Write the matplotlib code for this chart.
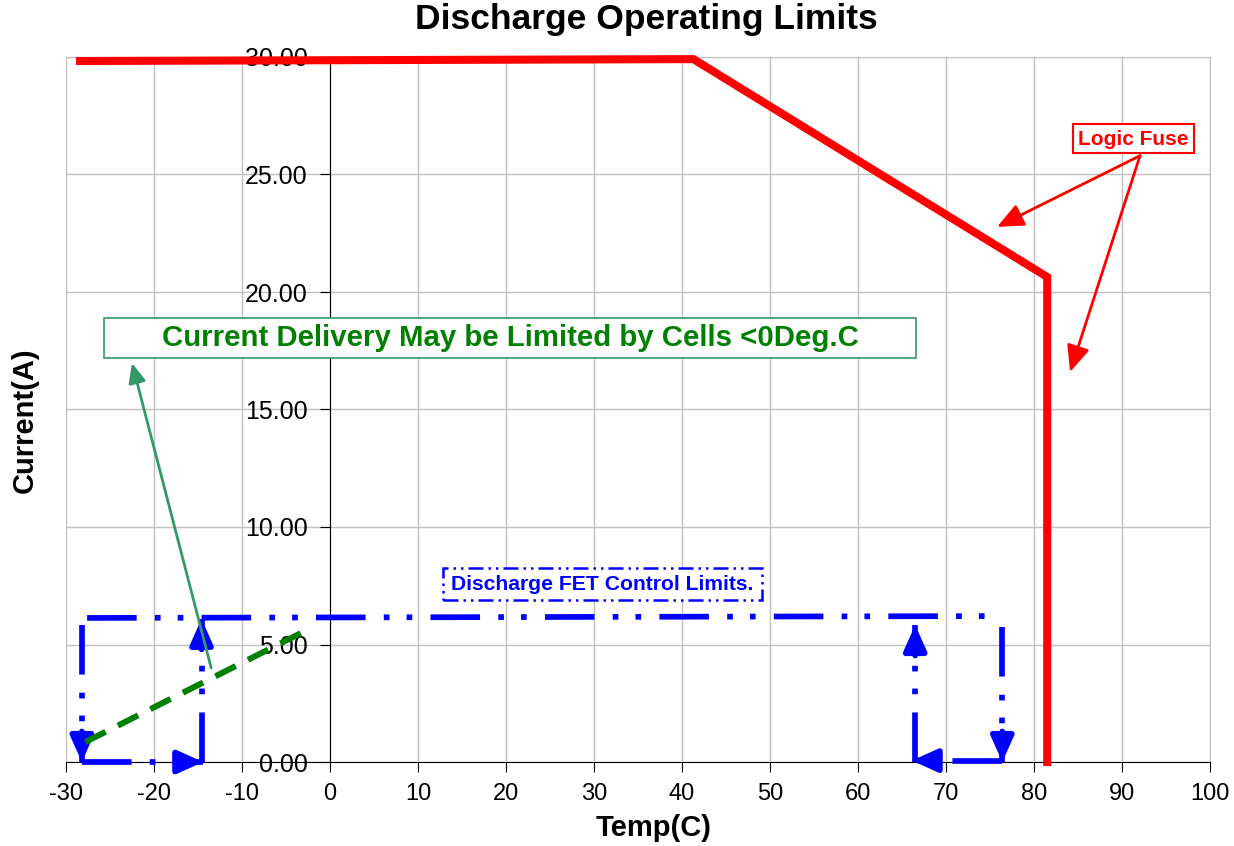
import matplotlib
matplotlib.use('Agg')
import matplotlib.pyplot as plt
from matplotlib.patches import Rectangle
from matplotlib.ticker import FormatStrFormatter

plt.rcParams['font.family'] = ['Liberation Sans', 'DejaVu Sans']
plt.rcParams['axes.unicode_minus'] = False

# logic fuse limit (red)
fuse_temp = [-28.4, 41.3, 81.5, 81.5]
fuse_curr = [29.83, 29.91, 20.64, 0.0]

# discharge FET control limits (blue), drawn as segments
fet_top_temp = [-27.6, 76.0]
fet_top_curr = [6.13, 6.21]
# (start temp, start curr, end temp, end curr) -- arrow at end
fet_arrows = [
    (-28.2, 5.83, -28.2, 0.0),
    (-28.2, 0.0, -14.4, 0.0),
    (-14.6, 0.0, -14.6, 6.09),
    (76.4, 5.74, 76.4, 0.0),
    (76.4, 0.06, 66.1, 0.06),
    (66.5, 0.0, 66.5, 5.83),
]

# cell limit (green dashed)
cell_temp = [-27.8, -2.6]
cell_curr = [0.85, 5.62]

fig = plt.figure(figsize=(12.34, 8.46), dpi=100)
ax = fig.add_axes([66/1234, 1-762/846, (1210-66)/1234, (762-57)/846])

ax.set_xlim(-30, 100)
ax.set_ylim(0, 30)
ax.set_xticks(range(-30, 101, 10))
ax.set_yticks(range(0, 31, 5))
ax.yaxis.set_major_formatter(FormatStrFormatter('%.2f'))
ax.grid(True, color='#c0c0c0', lw=1)
ax.set_axisbelow(True)

ax.spines['left'].set_position(('data', 0))
ax.spines['top'].set_color('#c0c0c0')
ax.spines['right'].set_color('#c0c0c0')
ax.tick_params(axis='x', direction='out', length=7, pad=8, labelsize=17)
ax.tick_params(axis='y', direction='out', length=7, pad=9, labelsize=18)

ax.plot(fuse_temp, fuse_curr, color='red', lw=5.8, solid_joinstyle='miter',
        zorder=5, clip_on=False)

dd = (8.7, 3.2, 1, 3, 1, 3.2)
ax.plot(fet_top_temp, fet_top_curr, color='blue', lw=4.1, dashes=dd, zorder=4)
for x0, y0, x1, y1 in fet_arrows:
    ax.plot([x0, x1], [y0, y1], color='blue', lw=4.1, dashes=dd, zorder=4,
            clip_on=False)
    # short solid stub carrying the arrow head
    sx = 0 if x1 == x0 else (3.0 if x1 > x0 else -3.0)
    sy = 0 if y1 == y0 else (1.3 if y1 > y0 else -1.3)
    ax.annotate('', xy=(x1, y1), xytext=(x1 - sx, y1 - sy),
                arrowprops=dict(arrowstyle='-|>,head_length=0.85,head_width=0.38',
                                color='blue', lw=4.1, mutation_scale=18,
                                shrinkA=0, shrinkB=0),
                annotation_clip=False, zorder=4)

ax.plot(cell_temp, cell_curr, color='green', lw=4.3, dashes=(3.8, 2.3), zorder=4)

# green note
ax.add_patch(Rectangle((-25.7, 17.2), 92.3, 1.7, facecolor='white',
                       edgecolor='#339966', lw=1.2, zorder=6))
ax.text(20.45, 18.04, 'Current Delivery May be Limited by Cells <0Deg.C',
        color='#008000', fontsize=21.2, fontweight='bold', ha='center',
        va='center', zorder=7)
ax.annotate('', xy=(-22.5, 16.98), xytext=(-13.5, 4.0),
            arrowprops=dict(arrowstyle='-|>,head_length=0.8,head_width=0.35',
                            color='#339966', lw=2, mutation_scale=15,
                            shrinkA=0, shrinkB=0), zorder=6)

# blue note
ax.add_patch(Rectangle((12.8, 6.9), 36.3, 1.36, facecolor='white',
                       edgecolor='blue', lw=1.8,
                       linestyle=(0, (6, 2, 1, 2, 1, 2)), zorder=6))
ax.text(30.95, 7.55, 'Discharge FET Control Limits.', color='blue',
        fontsize=15.2, fontweight='bold', ha='center', va='center', zorder=7)

# red note
ax.add_patch(Rectangle((84.4, 25.9), 13.8, 1.25, facecolor='white',
                       edgecolor='red', lw=1.5, zorder=6))
ax.text(91.3, 26.5, 'Logic Fuse', color='red', fontsize=15,
        fontweight='bold', ha='center', va='center', zorder=7)
for tip in [(75.8, 22.77), (84.1, 16.6)]:
    ax.annotate('', xy=tip, xytext=(92.05, 25.8),
                arrowprops=dict(arrowstyle='-|>,head_length=0.8,head_width=0.35',
                                color='red', lw=2, mutation_scale=20,
                                shrinkA=0, shrinkB=0), zorder=6)

fig.text(646/1234, 1-20/846, 'Discharge Operating Limits', fontsize=25.5,
         fontweight='bold', ha='center', va='center')
fig.text(654/1234, 1-828/846, 'Temp(C)', fontsize=21, fontweight='bold',
         ha='center', va='center')
fig.text(25/1234, 1-420/846, 'Current(A)', fontsize=21, fontweight='bold',
         ha='center', va='center', rotation=90)

fig.savefig('out.png', dpi=100)
